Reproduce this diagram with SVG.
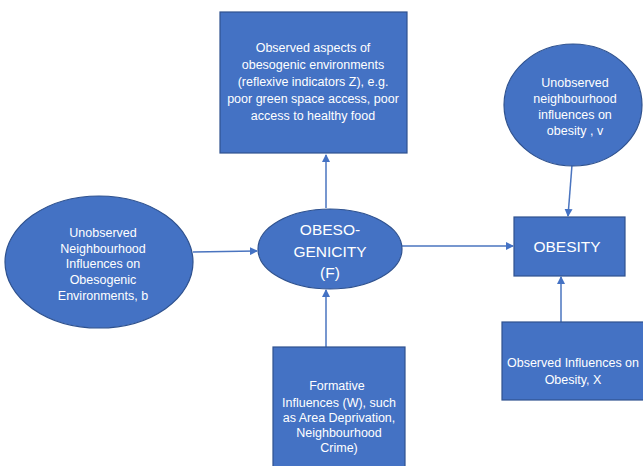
<svg xmlns="http://www.w3.org/2000/svg" width="643" height="466" viewBox="0 0 643 466">
<defs>
<style>
.n{fill:#4472C4;stroke:#2F528F;stroke-width:1.2}
.t{font-family:"Liberation Sans",Arial,sans-serif;font-size:12.5px;fill:#ffffff;text-anchor:middle}
.b{font-size:15.5px}
.c{stroke:#4a74bf;stroke-width:1.5;fill:none;marker-end:url(#ah)}
</style>
<marker id="ah" markerWidth="8" markerHeight="8" refX="7" refY="4" orient="auto" markerUnits="userSpaceOnUse">
<path d="M0,0 L8,4 L0,8 z" fill="#4472C4"/>
</marker>
</defs>
<rect width="643" height="466" fill="#ffffff"/>
<g id="connectors">
<line class="c" x1="193" y1="252" x2="257" y2="251"/>
<line class="c" x1="326" y1="208" x2="326" y2="155"/>
<line class="c" x1="326" y1="347" x2="326" y2="290"/>
<line class="c" x1="402" y1="246" x2="513" y2="246"/>
<line class="c" x1="572" y1="165" x2="568" y2="216"/>
<line class="c" x1="561" y1="322" x2="561" y2="277"/>
</g>
<g id="observed-aspects">
<rect class="n" x="220" y="12" width="187" height="141"/>
<text class="t" x="313" y="52">Observed aspects of</text>
<text class="t" x="313" y="69">obesogenic environments</text>
<text class="t" x="313" y="86">(reflexive indicators Z), e.g.</text>
<text class="t" x="313" y="103">poor green space access, poor</text>
<text class="t" x="313" y="120">access to healthy food</text>
</g>
<g id="unobserved-v">
<ellipse class="n" cx="573" cy="105" rx="69" ry="61"/>
<text class="t" x="575" y="87">Unobserved</text>
<text class="t" x="575" y="103">neighbourhood</text>
<text class="t" x="575" y="119">influences on</text>
<text class="t" x="575" y="135">obesity , v</text>
</g>
<g id="unobserved-b">
<ellipse class="n" cx="99" cy="262" rx="94" ry="66"/>
<text class="t" x="103" y="237">Unobserved</text>
<text class="t" x="103" y="253">Neighbourhood</text>
<text class="t" x="103" y="268">Influences on</text>
<text class="t" x="103" y="284">Obesogenic</text>
<text class="t" x="103" y="300">Environments, b</text>
</g>
<g id="obesogenicity">
<ellipse class="n" cx="330" cy="249" rx="72" ry="40"/>
<text class="t b" x="330" y="235">OBESO-</text>
<text class="t b" x="330" y="257">GENICITY</text>
<text class="t b" x="330" y="278">(F)</text>
</g>
<g id="obesity">
<rect class="n" x="514" y="217" width="111" height="59"/>
<text class="t b" x="567" y="252">OBESITY</text>
</g>
<g id="formative">
<rect class="n" x="273" y="347" width="132" height="130"/>
<text class="t" x="337" y="390">Formative</text>
<text class="t" x="339" y="407">Influences (W), such</text>
<text class="t" x="339" y="422">as Area Deprivation,</text>
<text class="t" x="339" y="437">Neighbourhood</text>
<text class="t" x="339" y="452">Crime)</text>
</g>
<g id="observed-x">
<rect class="n" x="502" y="322" width="150" height="78"/>
<text class="t" x="573" y="367">Observed Influences on</text>
<text class="t" x="573" y="384">Obesity, X</text>
</g>
</svg>
